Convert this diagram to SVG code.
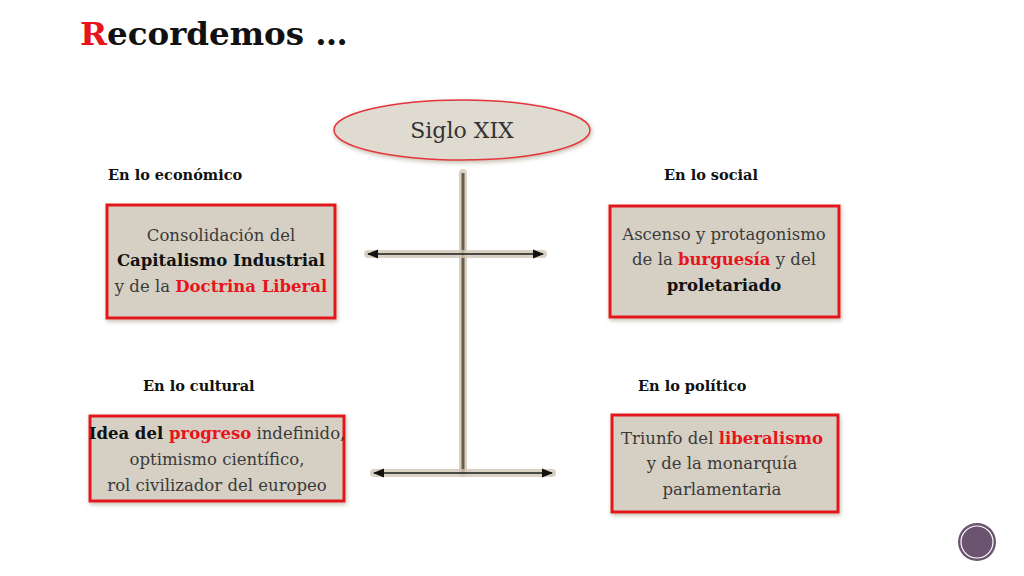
<svg xmlns="http://www.w3.org/2000/svg" width="1024" height="576" viewBox="0 0 1024 576">
<style>
.t{font-family:"DejaVu Serif","Liberation Serif",serif;fill:#3a3a3a;font-size:16.5px;text-anchor:middle}
.b{font-weight:bold;fill:#111}
.r{font-weight:bold;fill:#e8141c}
.lab{font-family:"DejaVu Serif","Liberation Serif",serif;font-size:14.5px;font-weight:bold;fill:#111}
.box{fill:#d6d0c4;stroke:#e3161b;stroke-width:3}
.ln{stroke:#1a1a1a;stroke-width:1.6;fill:none}
.halo{stroke:#cfc6b4;stroke-width:8;stroke-linecap:round;fill:none;opacity:0.8}
</style>
<defs>
<filter id="sh" x="-10%" y="-10%" width="120%" height="130%"><feDropShadow dx="1" dy="2" stdDeviation="2" flood-color="#8a7a60" flood-opacity="0.5"/></filter>
<marker id="ah" viewBox="0 0 10 10" refX="9" refY="5" markerWidth="7" markerHeight="7" orient="auto-start-reverse"><path d="M0,1 L10,5 L0,9 z" fill="#111"/></marker>
</defs>
<rect width="1024" height="576" fill="#fff"/>
<text x="80" y="45" font-family="DejaVu Serif,Liberation Serif,serif" font-size="32.5" font-weight="bold" fill="#111"><tspan fill="#e8141c">R</tspan>ecordemos …</text>

<g id="connectors">
<line class="halo" x1="463" y1="173" x2="463" y2="473"/>
<line x1="463" y1="173" x2="463" y2="473" stroke="#6b5e48" stroke-width="3"/>
<line class="halo" x1="368" y1="254" x2="543" y2="254"/>
<line class="ln" x1="368" y1="254" x2="543" y2="254" marker-start="url(#ah)" marker-end="url(#ah)"/>
<line class="halo" x1="374" y1="473" x2="552" y2="473"/>
<line class="ln" x1="374" y1="473" x2="552" y2="473" marker-start="url(#ah)" marker-end="url(#ah)"/>
</g>

<g id="siglo">
<ellipse cx="462" cy="130" rx="128" ry="30" fill="#e0dbd0" stroke="#e3343b" stroke-width="1.5" filter="url(#sh)"/>
<text class="t" x="462" y="138" style="font-size:22px;fill:#333">Siglo XIX</text>
</g>

<g id="labels">
<text class="lab" x="108" y="180">En lo económico</text>
<text class="lab" x="664" y="180">En lo social</text>
<text class="lab" x="143" y="391">En lo cultural</text>
<text class="lab" x="638" y="391">En lo político</text>
</g>

<g id="economico">
<rect class="box" x="107" y="205" width="228" height="113" filter="url(#sh)"/>
<text class="t" x="221" y="241">Consolidación del</text>
<text class="t b" x="221" y="266">Capitalismo Industrial</text>
<text class="t" x="221" y="292">y de la <tspan class="r">Doctrina Liberal</tspan></text>
</g>

<g id="social">
<rect class="box" x="610" y="206" width="229" height="111" filter="url(#sh)"/>
<text class="t" x="724" y="240">Ascenso y protagonismo</text>
<text class="t" x="724" y="265">de la <tspan class="r">burguesía</tspan> y del</text>
<text class="t b" x="724" y="291">proletariado</text>
</g>

<g id="cultural">
<rect class="box" x="90" y="416" width="254" height="85" filter="url(#sh)"/>
<text class="t" x="217" y="439"><tspan class="b">Idea del </tspan><tspan class="r">progreso</tspan> indefinido,</text>
<text class="t" x="217" y="465">optimismo científico,</text>
<text class="t" x="217" y="491">rol civilizador del europeo</text>
</g>

<g id="politico">
<rect class="box" x="612" y="415" width="226" height="97" filter="url(#sh)"/>
<text class="t" x="722" y="444">Triunfo del <tspan class="r">liberalismo</tspan></text>
<text class="t" x="722" y="469">y de la monarquía</text>
<text class="t" x="722" y="495">parlamentaria</text>
</g>

<g id="pagenum">
<circle cx="977" cy="542" r="19" fill="#6b5470"/>
<circle cx="977" cy="542" r="16" fill="none" stroke="#fff" stroke-width="1.2"/>
</g>
</svg>
